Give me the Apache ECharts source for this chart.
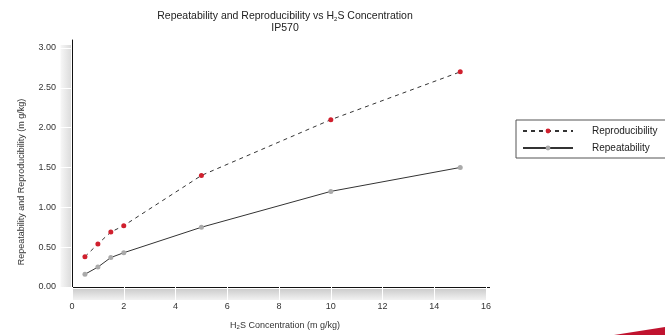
<!DOCTYPE html>
<html>
<head>
<meta charset="utf-8">
<script src="https://cdn.jsdelivr.net/npm/echarts@6/dist/echarts.min.js"></script>
<style>html,body{margin:0;padding:0;background:#fff}#c{width:665px;height:335px}</style>
</head>
<body>
<div id="c"></div>
<script>
const concentration = [0.5, 1, 1.5, 2, 5, 10, 15];
const reproducibility = [0.38, 0.54, 0.69, 0.77, 1.40, 2.10, 2.70];
const repeatability = [0.16, 0.25, 0.37, 0.43, 0.75, 1.20, 1.50];
const seriesNames = ['Reproducibility', 'Repeatability'];

const FONT = '"Liberation Sans", Arial, sans-serif';
const chart = echarts.init(document.getElementById('c'), null, {renderer: 'canvas'});

function pairs(xs, ys) { return xs.map((x, i) => [x, ys[i]]); }
const isMult = (v, s) => Math.abs(v / s - Math.round(v / s)) < 1e-6;

const yAxisBase = {type: 'value', min: 0, max: 3.1, interval: 0.5, splitLine: {show: false}};
const xAxisBase = {type: 'value', min: 0, max: 16.15, interval: 2, splitLine: {show: false}};

chart.setOption({
  animation: false,
  textStyle: {fontFamily: FONT},
  title: {
    text: 'Repeatability and Reproducibility vs H{s|2}S Concentration\nIP570',
    left: 285,
    textAlign: 'center',
    top: 10,
    padding: 0,
    textStyle: {
      fontFamily: FONT, fontSize: 10.5, fontWeight: 'normal', color: '#222', lineHeight: 12,
      rich: {s: {fontSize: 6, fontFamily: FONT, color: '#222', verticalAlign: 'bottom', lineHeight: 9}}
    }
  },
  grid: {left: 72, right: 175, top: 40, bottom: 47, containLabel: false},
  legend: {
    orient: 'vertical',
    left: 516, top: 120,
    padding: [6, 100, 5, 6],
    itemWidth: 50, itemHeight: 6, itemGap: 7,
    borderColor: '#555', borderWidth: 1,
    textStyle: {fontFamily: FONT, fontSize: 10, color: '#222', padding: [0, 0, 0, 14]},
    data: seriesNames
  },
  xAxis: [
    Object.assign({}, xAxisBase, {
      position: 'bottom',
      name: 'H{s|2}S Concentration (m g/kg)',
      nameLocation: 'middle', nameGap: 34,
      nameTextStyle: {fontFamily: FONT, fontSize: 9, color: '#333', padding: [0, 0, 0, 8],
        rich: {s: {fontSize: 6, fontFamily: FONT, color: '#333', verticalAlign: 'bottom', lineHeight: 8}}},
      axisLine: {show: true, onZero: false, lineStyle: {color: '#111', width: 1}},
      axisTick: {show: false},
      axisLabel: {fontFamily: FONT, fontSize: 9, color: '#333', margin: 15,
        formatter: v => isMult(v, 2) ? String(v) : ''}
    }),
    Object.assign({}, xAxisBase, {
      position: 'bottom', offset: 1,
      axisLine: {show: false},
      axisTick: {show: true, length: 13, lineStyle: {color: '#fff', width: 1}},
      axisLabel: {show: false}
    })
  ],
  yAxis: [
    Object.assign({}, yAxisBase, {
      position: 'left',
      name: 'Repeatability and Reproducibility (m g/kg)',
      nameLocation: 'middle', nameGap: 46,
      nameTextStyle: {fontFamily: FONT, fontSize: 9, color: '#333', padding: [0, 37, 0, 0]},
      axisLine: {show: true, onZero: false, lineStyle: {color: '#111', width: 1}},
      axisTick: {show: false},
      axisLabel: {fontFamily: FONT, fontSize: 9, color: '#333', margin: 16,
        formatter: v => isMult(v, 0.5) ? v.toFixed(2) : ''}
    }),
    Object.assign({}, yAxisBase, {
      position: 'left', offset: 1,
      axisLine: {show: false},
      axisTick: {show: true, length: 13, lineStyle: {color: '#fff', width: 1}},
      axisLabel: {show: false}
    })
  ],
  graphic: [
    {type: 'rect', z: -10, shape: {x: 60.5, y: 45, width: 10.5, height: 243},
     style: {fill: new echarts.graphic.LinearGradient(0, 0, 1, 0, [{offset: 0, color: '#f7f7f7'}, {offset: 1, color: '#dcdcdc'}])}},
    {type: 'rect', z: -10, shape: {x: 72, y: 289, width: 414, height: 11},
     style: {fill: new echarts.graphic.LinearGradient(0, 0, 0, 1, [{offset: 0, color: '#cdcdcd'}, {offset: 1, color: '#f2f2f2'}])}},
    {type: 'polygon', z: 10, shape: {points: [[614, 335], [665, 327], [665, 335]]},
     style: {fill: '#c0132f'}}
  ],
  series: [
    {
      name: seriesNames[0], type: 'line', xAxisIndex: 0, yAxisIndex: 0,
      data: pairs(concentration, reproducibility),
      symbol: 'circle', symbolSize: 5, showAllSymbol: true,
      lineStyle: {color: '#333', width: 1, type: [4, 4]},
      itemStyle: {color: '#d0202e', borderWidth: 0}
    },
    {
      name: seriesNames[1], type: 'line', xAxisIndex: 0, yAxisIndex: 0,
      data: pairs(concentration, repeatability),
      symbol: 'circle', symbolSize: 5, showAllSymbol: true,
      lineStyle: {color: '#333', width: 1},
      itemStyle: {color: '#aaaaaa', borderWidth: 0}
    }
  ]
});
</script>
</body>
</html>
